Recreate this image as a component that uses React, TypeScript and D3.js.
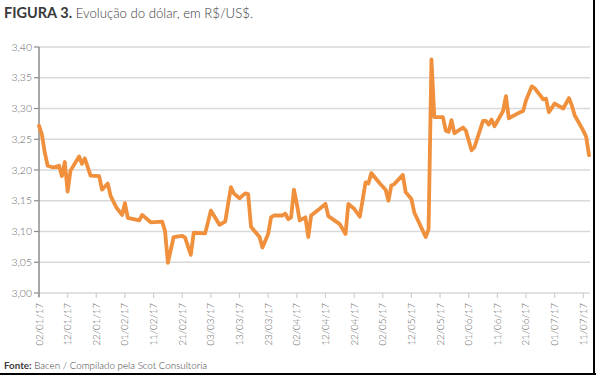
import React from "react";
import * as d3 from "d3";

const dates: string[] = [
  "2017-01-02","2017-01-03","2017-01-04","2017-01-05","2017-01-07","2017-01-09","2017-01-10","2017-01-11","2017-01-12","2017-01-13",
  "2017-01-16","2017-01-17","2017-01-18","2017-01-20","2017-01-23","2017-01-24","2017-01-26","2017-01-27","2017-01-29","2017-01-31",
  "2017-02-01","2017-02-02","2017-02-06","2017-02-07","2017-02-10","2017-02-14","2017-02-15","2017-02-16","2017-02-18","2017-02-21",
  "2017-02-22","2017-02-24","2017-02-25","2017-03-01","2017-03-03","2017-03-06","2017-03-08","2017-03-10","2017-03-11","2017-03-13",
  "2017-03-15","2017-03-16","2017-03-17","2017-03-18","2017-03-20","2017-03-21","2017-03-23","2017-03-24","2017-03-25","2017-03-28",
  "2017-03-29","2017-03-30","2017-03-31","2017-04-01","2017-04-02","2017-04-03","2017-04-05","2017-04-06","2017-04-07","2017-04-10",
  "2017-04-12","2017-04-13","2017-04-17","2017-04-19","2017-04-20","2017-04-22","2017-04-24","2017-04-26","2017-04-27","2017-04-28",
  "2017-05-01","2017-05-03","2017-05-04","2017-05-05","2017-05-06","2017-05-09","2017-05-10","2017-05-12","2017-05-13","2017-05-17",
  "2017-05-18","2017-05-19","2017-05-20","2017-05-23","2017-05-24","2017-05-25","2017-05-26","2017-05-27","2017-05-30","2017-05-31",
  "2017-06-02","2017-06-03","2017-06-06","2017-06-07","2017-06-08","2017-06-09","2017-06-10","2017-06-13","2017-06-14","2017-06-15",
  "2017-06-19","2017-06-20","2017-06-21","2017-06-23","2017-06-24","2017-06-27","2017-06-28","2017-06-29","2017-07-01","2017-07-04",
  "2017-07-06","2017-07-07","2017-07-08","2017-07-11","2017-07-12","2017-07-13"
];

const values: number[] = [
  3.272,3.258,3.229,3.207,3.204,3.207,3.190,3.213,3.165,3.199,
  3.222,3.210,3.219,3.191,3.190,3.168,3.178,3.158,3.139,3.127,
  3.146,3.122,3.118,3.127,3.115,3.116,3.101,3.049,3.091,3.093,
  3.090,3.062,3.098,3.097,3.134,3.111,3.116,3.172,3.162,3.154,
  3.162,3.161,3.108,3.102,3.091,3.074,3.096,3.123,3.126,3.126,
  3.129,3.120,3.123,3.168,3.145,3.118,3.123,3.091,3.126,3.137,
  3.145,3.125,3.112,3.096,3.145,3.137,3.124,3.180,3.178,3.195,
  3.178,3.168,3.150,3.175,3.177,3.192,3.164,3.153,3.131,3.091,
  3.104,3.380,3.286,3.286,3.264,3.262,3.281,3.260,3.269,3.264,
  3.232,3.237,3.280,3.280,3.274,3.282,3.271,3.296,3.320,3.284,
  3.294,3.296,3.313,3.336,3.333,3.315,3.316,3.294,3.308,3.300,
  3.317,3.305,3.289,3.264,3.254,3.224
];

const yTicks: number[] = [3.0, 3.05, 3.1, 3.15, 3.2, 3.25, 3.3, 3.35, 3.4];
const xTickLabels: string[] = [
  "02/01/17","12/01/17","22/01/17","01/02/17","11/02/17","21/02/17","03/03/17","13/03/17","23/03/17","02/04/17",
  "12/04/17","22/04/17","02/05/17","12/05/17","22/05/17","01/06/17","11/06/17","21/06/17","01/07/17","11/07/17"
];

const title = "FIGURA 3.";
const subtitle = " Evolução do dólar, em R$/US$.";
const sourceBold = "Fonte:";
const sourceText = " Bacen / Compilado pela Scot Consultoria";

const W = 596, H = 375;
const left = 39, right = 589, top = 47, bottom = 293;
const FONT = "Lato, 'Open Sans', sans-serif";

export default function App() {
  const parse = d3.timeParse("%Y-%m-%d");
  const parseTick = d3.timeParse("%d/%m/%y");
  const pts = dates.map((d, i) => ({ d: parse(d) as Date, v: values[i] }));
  const x = d3.scaleTime()
    .domain([parse("2017-01-02") as Date, parse("2017-07-13") as Date])
    .range([left, right]);
  const y = d3.scaleLinear().domain([3.0, 3.4]).range([bottom, top]);
  const line = d3.line<{ d: Date; v: number }>()
    .x((p) => x(p.d))
    .y((p) => y(p.v))
    .curve(d3.curveLinear);
  const fmtY = (v: number) => d3.format(".2f")(v).replace(".", ",");

  return (
    <svg width={W} height={H} style={{ position: "absolute", left: 0, top: 0, background: "#fff" }}
      fontFamily={FONT}>
      <rect x={0} y={0} width={W} height={H} fill="#fff" />
      <text x={4} y={18} fill="#3a3a3a">
        <tspan fontWeight={700} fontSize={14.5}>{title}</tspan>
        <tspan fontWeight={300} fontSize={13.2}>{subtitle}</tspan>
      </text>
      {yTicks.map((t) => (
        <g key={t}>
          <line x1={left} x2={right + 1} y1={y(t)} y2={y(t)} stroke="#d9d9d9" strokeWidth={1.5} />
          <line x1={left - 5} x2={left} y1={y(t)} y2={y(t)} stroke="#8c8c8c" strokeWidth={1.2} />
          <text x={32} y={y(t) + 3.5} fontSize={10.5} fontWeight={300} fill="#5f5f5f" textAnchor="end">{fmtY(t)}</text>
        </g>
      ))}
      {xTickLabels.map((lab) => {
        const xx = x(parseTick(lab) as Date);
        return (
          <g key={lab}>
            <line x1={xx} x2={xx} y1={bottom} y2={bottom + 5} stroke="#cfcfcf" strokeWidth={1.2} />
            <text transform={`translate(${xx + 3.5},${bottom + 10}) rotate(-90)`} fontSize={9.8}
              fontWeight={300} fill="#5f5f5f" textAnchor="end">{lab}</text>
          </g>
        );
      })}
      <line x1={left} x2={left} y1={top} y2={bottom + 4} stroke="#8c8c8c" strokeWidth={1.5} />
      <path d={line(pts) || ""} fill="none" stroke="#f0903c" strokeWidth={3.8}
        strokeLinejoin="round" strokeLinecap="round" />
      <text x={4} y={369} fontSize={9.8} fill="#3a3a3a">
        <tspan fontWeight={700}>{sourceBold}</tspan>
        <tspan fontWeight={300}>{sourceText}</tspan>
      </text>
      <line x1={0} x2={W} y1={374} y2={374} stroke="#000" strokeWidth={2} />
      <line x1={594} x2={594} y1={0} y2={H} stroke="#000" strokeWidth={2} />
    </svg>
  );
}
